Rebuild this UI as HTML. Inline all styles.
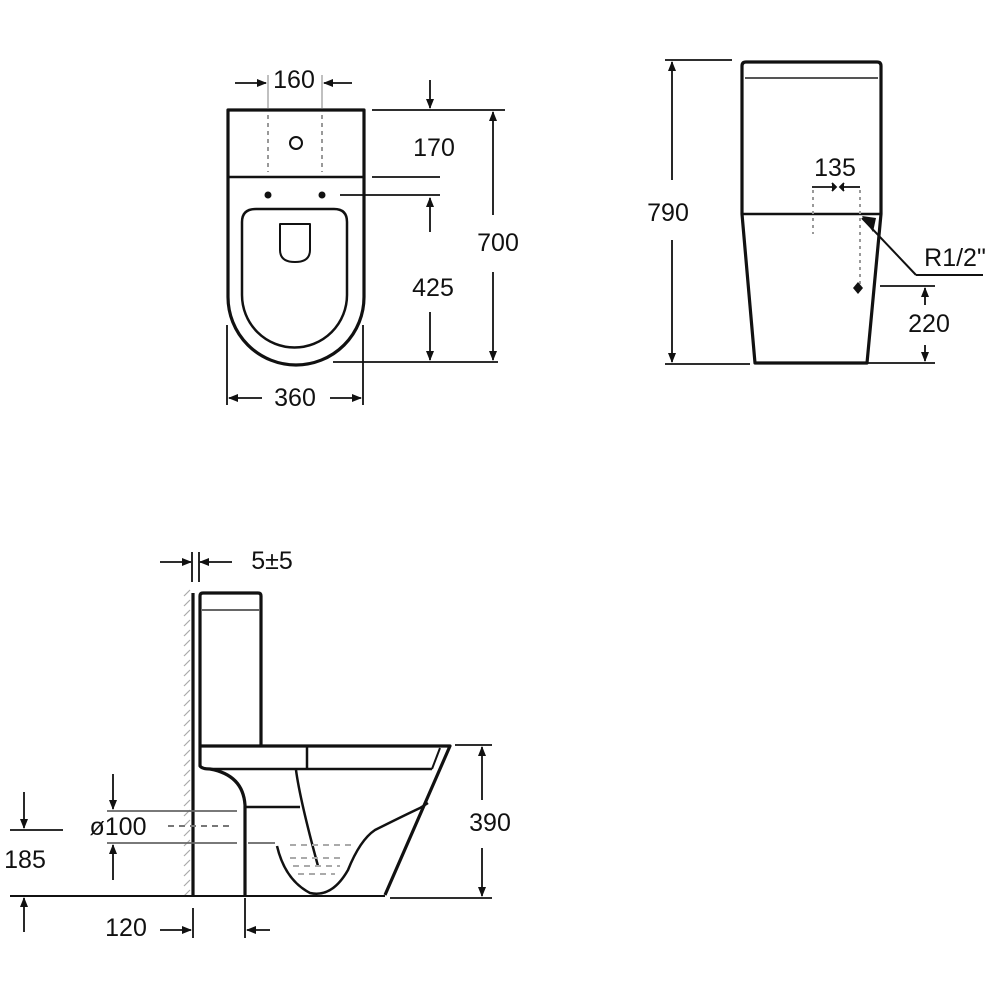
<!DOCTYPE html>
<html><head><meta charset="utf-8"><style>
html,body{margin:0;padding:0;background:#fff;}
svg{display:block;}
text{font-family:"Liberation Sans",sans-serif;font-size:25px;fill:#111;text-anchor:middle;dominant-baseline:central;}
</style></head><body>
<svg width="1000" height="1000" viewBox="0 0 1000 1000" xmlns="http://www.w3.org/2000/svg">
<defs>
<marker id="a" markerWidth="10" markerHeight="8" refX="9" refY="4" orient="auto" markerUnits="userSpaceOnUse"><path d="M0,0 L10,4 L0,8 Z" fill="#111"/></marker>
</defs>
<g fill="none" stroke="#111" stroke-width="3.2" stroke-linejoin="round">
<!-- TOP VIEW -->
<path d="M228,110 H364 V297 A68,68 0 0 1 228,297 Z"/>
<line x1="228" y1="177" x2="364" y2="177" stroke-width="2.5"/>
<path d="M242,222 Q242,209 256,209 H334 Q347,209 347,222 V295 A52,52 0 0 1 242,295 Z" stroke-width="2.5"/>
<path d="M280,224 H310 V250 Q310,262 295,262 Q280,262 280,250 Z" stroke-width="2"/>
<circle cx="296" cy="143" r="6" stroke-width="2"/>
</g>
<g stroke="#999" stroke-width="2" stroke-dasharray="4,4">
<line x1="268" y1="115" x2="268" y2="172"/><line x1="322" y1="115" x2="322" y2="172"/>
</g>
<g stroke="#aaa" stroke-width="1.5"><line x1="268" y1="75" x2="268" y2="108"/><line x1="322" y1="75" x2="322" y2="108"/></g>
<circle cx="268" cy="195" r="3.5" fill="#111"/><circle cx="322" cy="195" r="3.5" fill="#111"/>
<g stroke="#111" stroke-width="1.8" fill="none">
<line x1="235" y1="83" x2="266" y2="83" marker-end="url(#a)"/>
<line x1="352" y1="83" x2="324" y2="83" marker-end="url(#a)"/>
<line x1="372" y1="110" x2="505" y2="110"/>
<line x1="372" y1="177" x2="440" y2="177"/>
<line x1="340" y1="195" x2="440" y2="195"/>
<line x1="333" y1="362" x2="498" y2="362"/>
<line x1="430" y1="80" x2="430" y2="108" marker-end="url(#a)"/>
<line x1="430" y1="232" x2="430" y2="198" marker-end="url(#a)"/>
<line x1="430" y1="312" x2="430" y2="360" marker-end="url(#a)"/>
<line x1="493" y1="215" x2="493" y2="112" marker-end="url(#a)"/>
<line x1="493" y1="272" x2="493" y2="360" marker-end="url(#a)"/>
<line x1="227" y1="325" x2="227" y2="405"/><line x1="363" y1="325" x2="363" y2="405"/>
<line x1="262" y1="398" x2="229" y2="398" marker-end="url(#a)"/>
<line x1="330" y1="398" x2="361" y2="398" marker-end="url(#a)"/>
</g>
<text x="294" y="80">160</text>
<text x="434" y="148">170</text>
<text x="433" y="288">425</text>
<text x="498" y="243">700</text>
<text x="295" y="398">360</text>

<!-- SIDE VIEW -->
<g fill="none" stroke="#111" stroke-width="3.2" stroke-linejoin="round">
<path d="M742,214 V66 Q742,62 746,62 H877 Q881,62 881,66 V214 L867,363 H755 Z"/>
<line x1="742" y1="214" x2="881" y2="214" stroke-width="2.5"/>
<line x1="745" y1="78" x2="878" y2="78" stroke-width="2" stroke="#555"/>
</g>
<g stroke="#999" stroke-width="2" stroke-dasharray="3,4">
<line x1="813" y1="190" x2="813" y2="234"/><line x1="860" y1="190" x2="860" y2="284"/>
</g>
<path d="M858,282 L863,288 L858,294 L853,288 Z" fill="#111"/>
<g stroke="#111" stroke-width="1.8" fill="none">
<line x1="665" y1="60" x2="732" y2="60"/>
<line x1="665" y1="364" x2="750" y2="364"/>
<line x1="672" y1="180" x2="672" y2="62" marker-end="url(#a)"/>
<line x1="672" y1="240" x2="672" y2="362" marker-end="url(#a)"/>
<line x1="812" y1="187" x2="832" y2="187"/><path d="M832,183 L836,187 L832,191" fill="#111"/>
<line x1="860" y1="187" x2="844" y2="187"/><path d="M844,183 L840,187 L844,191" fill="#111"/>
<line x1="862" y1="218" x2="916" y2="275" stroke-width="2"/>
<line x1="916" y1="275" x2="983" y2="275" stroke-width="2"/>
<line x1="880" y1="286" x2="935" y2="286"/>
<line x1="867" y1="363" x2="935" y2="363"/>
<line x1="925" y1="305" x2="925" y2="288" marker-end="url(#a)"/>
<line x1="925" y1="345" x2="925" y2="361" marker-end="url(#a)"/>
</g>
<path d="M862,216 L876,218 L873,232 Z" fill="#111"/>
<text x="668" y="213">790</text>
<text x="835" y="168">135</text>
<text x="955" y="258">R1/2"</text>
<text x="929" y="324">220</text>

<!-- BOTTOM VIEW -->
<g stroke="#aaa" stroke-width="1.2">
<path d="M184,596 L190,590 M184,606 L190,600 M184,616 L190,610 M184,626 L190,620 M184,636 L190,630 M184,646 L190,640 M184,656 L190,650 M184,666 L190,660 M184,676 L190,670 M184,686 L190,680 M184,696 L190,690 M184,706 L190,700 M184,716 L190,710 M184,726 L190,720 M184,736 L190,730 M184,746 L190,740 M184,756 L190,750 M184,766 L190,760 M184,776 L190,770 M184,786 L190,780 M184,796 L190,790 M184,806 L190,800 M184,816 L190,810 M184,826 L190,820 M184,836 L190,830 M184,846 L190,840 M184,856 L190,850 M184,866 L190,860 M184,876 L190,870 M184,886 L190,880 M184,896 L190,890"/>
</g>
<g fill="none" stroke="#111" stroke-width="3.2" stroke-linejoin="round">
<line x1="193" y1="593" x2="193" y2="896"/>
<path d="M200,746 V596 Q200,593 203,593 H258 Q261,593 261,596 V746"/>
<line x1="202" y1="610" x2="260" y2="610" stroke="#666" stroke-width="2"/>
<path d="M200,746 H450 L385,895"/>
<path d="M200,746 V766 Q202,769 210,769 Q243,775 245,805 V896"/>
<line x1="210" y1="769" x2="432" y2="769" stroke-width="2.5"/>
<line x1="307" y1="746" x2="307" y2="769" stroke-width="2.5"/>
<line x1="432" y1="769" x2="440" y2="748" stroke-width="2"/>
<line x1="245" y1="807" x2="300" y2="807" stroke-width="2.5"/>
<path d="M296,770 Q300,800 318,866" stroke-width="2.5"/>
<path d="M277,846 Q285,880 310,893 Q332,898 348,870 Q360,840 375,830 Q405,815 420,808 L428,803" stroke-width="2.5"/>
<line x1="10" y1="896" x2="385" y2="896" stroke-width="2"/>
</g>
<g stroke="#aaa" stroke-width="2" stroke-dasharray="6,5">
<line x1="290" y1="845" x2="355" y2="845"/>
<line x1="290" y1="858" x2="345" y2="858"/>
<line x1="293" y1="866" x2="340" y2="866"/>
<line x1="298" y1="874" x2="335" y2="874"/>
<line x1="168" y1="826" x2="232" y2="826" stroke="#777"/>
</g>
<g stroke="#111" stroke-width="1.8" fill="none">
<line x1="160" y1="562" x2="191" y2="562" marker-end="url(#a)"/>
<line x1="232" y1="562" x2="200" y2="562" marker-end="url(#a)"/>
<line x1="192" y1="552" x2="192" y2="582"/><line x1="199" y1="552" x2="199" y2="582"/>
<line x1="107" y1="811" x2="237" y2="811" stroke="#666"/>
<line x1="107" y1="843" x2="237" y2="843" stroke="#666"/>
<line x1="248" y1="843" x2="275" y2="843" stroke="#666"/>
<line x1="113" y1="774" x2="113" y2="809" marker-end="url(#a)"/>
<line x1="113" y1="880" x2="113" y2="845" marker-end="url(#a)"/>
<line x1="10" y1="830" x2="63" y2="830"/>
<line x1="24" y1="792" x2="24" y2="828" marker-end="url(#a)"/>
<line x1="24" y1="932" x2="24" y2="898" marker-end="url(#a)"/>
<line x1="193" y1="908" x2="193" y2="938"/><line x1="245" y1="898" x2="245" y2="938"/>
<line x1="160" y1="930" x2="191" y2="930" marker-end="url(#a)"/>
<line x1="270" y1="930" x2="247" y2="930" marker-end="url(#a)"/>
<line x1="455" y1="745" x2="492" y2="745"/>
<line x1="390" y1="898" x2="492" y2="898"/>
<line x1="482" y1="800" x2="482" y2="747" marker-end="url(#a)"/>
<line x1="482" y1="848" x2="482" y2="896" marker-end="url(#a)"/>
</g>
<text x="272" y="561">5±5</text>
<text x="118" y="827">ø100</text>
<text x="25" y="860">185</text>
<text x="126" y="928">120</text>
<text x="490" y="823">390</text>
</svg>
</body></html>
